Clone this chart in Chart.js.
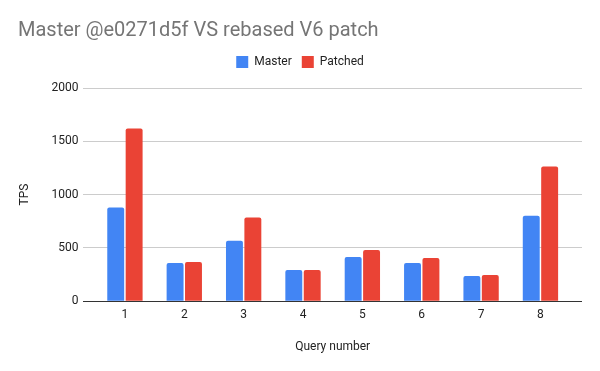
<!DOCTYPE html>
<html>
<head>
<meta charset="utf-8">
<script src="https://cdn.jsdelivr.net/npm/chart.js@4"></script>
<style>
    body { margin: 0; background: #fff; }
</style>
</head>
<body>
<canvas id="tpsChart" width="600" height="371"></canvas>
<script>
// Sorgu numaraları ve TPS değerleri
const queryNumbers = [1, 2, 3, 4, 5, 6, 7, 8];
const masterTps = [880, 358, 566, 292, 415, 358, 236, 802];
const patchedTps = [1620, 368, 786, 292, 481, 406, 245, 1264];
const yTicks = [0, 500, 1000, 1500, 2000];

Chart.defaults.font.family = 'Roboto';
Chart.defaults.font.size = 12;
Chart.defaults.color = '#222';

function toPoints(values) {
    return queryNumbers.map((q, i) => ({ x: q, y: values[i] }));
}

new Chart(document.getElementById('tpsChart'), {
    type: 'bar',
    data: {
        datasets: [{
            label: 'Master',
            data: toPoints(masterTps),
            backgroundColor: '#4285F4',
            borderRadius: 2,
            categoryPercentage: 0.62,
            barPercentage: 0.92
        }, {
            label: 'Patched',
            data: toPoints(patchedTps),
            backgroundColor: '#EA4335',
            borderRadius: 2,
            categoryPercentage: 0.62,
            barPercentage: 0.92
        }]
    },
    options: {
        responsive: false,
        animation: false,
        layout: { padding: { left: 18, right: 18, top: 0, bottom: 17 } },
        plugins: {
            title: {
                display: true,
                text: 'Master @e0271d5f VS rebased V6 patch',
                align: 'start',
                color: '#757575',
                font: { size: 20, weight: 'normal' },
                padding: { top: 19, bottom: 3 }
            },
            // lejant ile grafik alanı arasında boşluk
            subtitle: {
                display: true,
                text: '',
                weight: 500,
                font: { size: 10, lineHeight: 1 },
                padding: 0
            },
            legend: {
                position: 'top',
                labels: { boxWidth: 12, boxHeight: 12, padding: 10, color: '#222' }
            },
            tooltip: { enabled: false }
        },
        scales: {
            x: {
                type: 'linear',
                offset: false,
                min: 0.3,
                max: 8.7,
                afterBuildTicks: scale => {
                    scale.ticks = queryNumbers.map(v => ({ value: v }));
                },
                grid: { display: false, drawTicks: false },
                border: { display: false },
                ticks: { padding: 7, color: '#222' },
                title: {
                    display: true,
                    text: 'Query number',
                    color: '#222',
                    padding: { top: 10, bottom: 0 }
                }
            },
            y: {
                min: 0,
                max: 2000,
                afterBuildTicks: scale => {
                    scale.ticks = yTicks.map(v => ({ value: v }));
                },
                grid: {
                    drawTicks: false,
                    color: ctx => ctx.tick && ctx.tick.value === 0 ? '#333' : '#ccc'
                },
                border: { display: false },
                ticks: { padding: 5, color: '#222', callback: v => String(v) },
                title: {
                    display: true,
                    text: 'TPS',
                    color: '#222',
                    padding: { top: 0, bottom: 14 }
                }
            }
        }
    }
});
</script>
</body>
</html>
